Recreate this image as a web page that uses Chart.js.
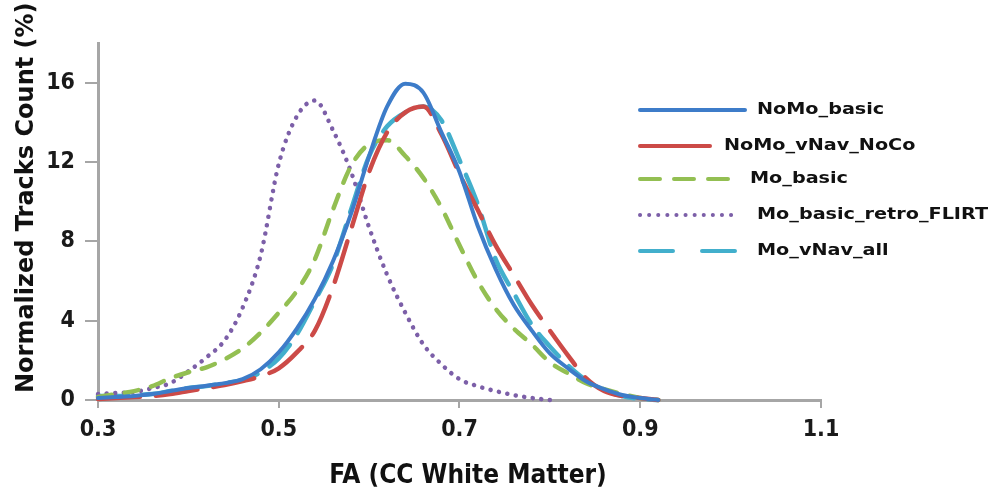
<!DOCTYPE html>
<html>
<head>
<meta charset="utf-8">
<script src="https://cdn.jsdelivr.net/npm/chart.js@4.4.1/dist/chart.umd.min.js"></script>
<style>
  html, body { margin: 0; padding: 0; background: #fff; }
  #wrap { width: 996px; height: 495px; position: relative; }
</style>
</head>
<body>
<div id="wrap"><canvas id="faChart" width="996" height="495"></canvas></div>
<script>
// FA values (x) shared by every curve
const faValues = [0.30, 0.32, 0.34, 0.36, 0.38, 0.40, 0.42, 0.44, 0.46, 0.48,
                  0.50, 0.52, 0.54, 0.56, 0.58, 0.60, 0.62, 0.64, 0.66, 0.68,
                  0.70, 0.72, 0.74, 0.76, 0.78, 0.80, 0.82, 0.84, 0.86, 0.88,
                  0.90, 0.92];

// Normalized tracks count (%)
const noMoBasic = [0.1, 0.15, 0.2, 0.3, 0.45, 0.6, 0.72, 0.85, 1.05, 1.55,
                   2.4, 3.6, 5.1, 7.0, 9.4, 12.3, 14.8, 15.95, 15.5, 13.5,
                   11.5, 8.8, 6.6, 4.8, 3.5, 2.35, 1.6, 0.95, 0.55, 0.25,
                   0.1, 0.0];
const noMoVNavNoCo = [0.05, 0.1, 0.15, 0.2, 0.3, 0.45, 0.6, 0.75, 0.95, 1.2,
                      1.6, 2.4, 3.5, 5.7, 8.6, 11.5, 13.5, 14.5, 14.8, 13.4,
                      11.4, 9.6, 7.8, 6.3, 4.8, 3.5, 2.25, 1.1, 0.45, 0.2,
                      0.1, 0.0];
const moBasic = [0.15, 0.3, 0.45, 0.7, 1.1, 1.4, 1.65, 2.05, 2.6, 3.4,
                 4.4, 5.5, 7.1, 9.6, 11.8, 12.9, 13.1, 12.3, 11.2, 9.7,
                 7.8, 6.0, 4.6, 3.6, 2.8, 1.9, 1.35, 0.85, 0.55, 0.3,
                 0.1, 0.0];
const moBasicRetroFlirt = [0.3, 0.35, 0.4, 0.6, 0.85, 1.45, 2.15, 3.0, 4.65, 7.3,
                           11.9, 14.3, 15.1, 13.6, 11.5, 8.7, 6.3, 4.4, 2.8, 1.8,
                           1.05, 0.7, 0.45, 0.25, 0.1, 0.0, null, null, null, null,
                           null, null];
const moVNavAll = [0.2, 0.2, 0.25, 0.3, 0.45, 0.6, 0.7, 0.85, 1.0, 1.4,
                   2.1, 3.3, 5.0, 6.85, 9.6, 12.3, 13.8, 14.5, 14.8, 14.1,
                   12.1, 9.9, 7.1, 5.4, 3.8, 2.7, 1.75, 1.0, 0.5, 0.2,
                   0.05, 0.0];

const seriesNames = ['NoMo_basic', 'NoMo_vNav_NoCo', 'Mo_basic', 'Mo_basic_retro_FLIRT', 'Mo_vNav_all'];
const seriesValues = [noMoBasic, noMoVNavNoCo, moBasic, moBasicRetroFlirt, moVNavAll];

const xTicks = [0.3, 0.5, 0.7, 0.9, 1.1];
const yTicks = [0, 4, 8, 12, 16];

const xTitle = 'FA (CC White Matter)';
const yTitle = 'Normalized Tracks Count (%)';

// styles
const lineStyles = [
    { color: '#3d7cc9', dash: [],        legendDash: [],        cap: 'round' },
    { color: '#cc4a47', dash: [42, 16],  legendDash: [],        cap: 'round' },
    { color: '#93bf52', dash: [14, 13],  legendDash: [20, 14],  cap: 'round' },
    { color: '#7c5fa8', dash: [0.1, 8.5], legendDash: [0.1, 9], cap: 'round' },
    { color: '#42afcc', dash: [30, 14],  legendDash: [33, 29],  cap: 'round' }
];

// legend layout (canvas px)
const legendLayout = [
    { x1: 640, x2: 745, textX: 757, y: 110 },
    { x1: 640, x2: 710, textX: 724, y: 146 },
    { x1: 640, x2: 737, textX: 750, y: 179 },
    { x1: 640, x2: 737, textX: 757, y: 215 },
    { x1: 640, x2: 737, textX: 757, y: 251 }
];

const narrowFont = '"Liberation Sans Narrow", "DejaVu Sans Condensed", "Roboto Condensed", sans-serif';
const axisGray = '#a6a6a6';

const datasets = seriesNames.map((name, i) => ({
    label: name,
    data: faValues.map((x, j) => ({ x: x, y: seriesValues[i][j] })),
    borderColor: lineStyles[i].color,
    backgroundColor: lineStyles[i].color,
    borderWidth: i === 0 ? 4 : 4.5,
    borderDash: lineStyles[i].dash,
    borderCapStyle: lineStyles[i].cap,
    pointRadius: 0,
    cubicInterpolationMode: 'monotone',
    fill: false,
    spanGaps: false,
    clip: 6
}));

// legend and axis titles drawn on the canvas
const annotations = {
    id: 'annotations',
    afterDraw(chart) {
        const ctx = chart.ctx;
        ctx.save();

        seriesNames.forEach((name, i) => {
            const pos = legendLayout[i];
            ctx.beginPath();
            ctx.strokeStyle = lineStyles[i].color;
            ctx.lineWidth = 4;
            ctx.lineCap = 'round';
            ctx.setLineDash(lineStyles[i].legendDash);
            ctx.moveTo(pos.x1, pos.y);
            ctx.lineTo(pos.x2, pos.y);
            ctx.stroke();

            ctx.save();
            ctx.translate(pos.textX, pos.y);
            ctx.scale(1.2, 1);
            ctx.setLineDash([]);
            ctx.fillStyle = '#111';
            ctx.font = 'bold 16px "DejaVu Sans", sans-serif';
            ctx.textAlign = 'left';
            ctx.textBaseline = 'middle';
            ctx.fillText(name, 0, 0);
            ctx.restore();
        });

        // x axis title
        ctx.fillStyle = '#111';
        ctx.font = 'bold 26px ' + narrowFont;
        ctx.textAlign = 'center';
        ctx.textBaseline = 'alphabetic';
        ctx.fillText(xTitle, 468, 483);

        // y axis title, set low like the original
        ctx.translate(33, 393);
        ctx.rotate(-Math.PI / 2);
        ctx.font = 'bold 24px "DejaVu Sans", sans-serif';
        ctx.textAlign = 'left';
        ctx.fillText(yTitle, 0, 0);

        ctx.restore();
    }
};

new Chart(document.getElementById('faChart'), {
    type: 'line',
    data: { datasets: datasets },
    options: {
        responsive: false,
        animation: false,
        devicePixelRatio: 1,
        layout: { padding: { top: 43, right: 175, left: 0, bottom: 0 } },
        plugins: {
            legend: { display: false },
            tooltip: { enabled: false }
        },
        scales: {
            x: {
                type: 'linear',
                min: 0.3,
                max: 1.1,
                afterBuildTicks: s => { s.ticks = xTicks.map(v => ({ value: v })); },
                afterFit: s => { s.height = 95; },
                grid: { drawOnChartArea: false, tickLength: 8, color: axisGray, lineWidth: 2 },
                border: { color: axisGray, width: 3 },
                ticks: {
                    color: '#1a1a1a',
                    padding: 8,
                    maxRotation: 0,
                    font: { family: narrowFont, size: 23, weight: 'bold' },
                    callback: v => v.toFixed(1)
                }
            },
            y: {
                min: 0,
                max: 18,
                afterBuildTicks: s => { s.ticks = yTicks.map(v => ({ value: v })); },
                afterFit: s => { s.width = 98; },
                grid: { drawOnChartArea: false, tickLength: 13, color: axisGray, lineWidth: 2 },
                border: { color: axisGray, width: 3 },
                ticks: {
                    color: '#1a1a1a',
                    padding: 10,
                    font: { family: narrowFont, size: 23, weight: 'bold' }
                }
            }
        }
    },
    plugins: [annotations]
});
</script>
</body>
</html>
